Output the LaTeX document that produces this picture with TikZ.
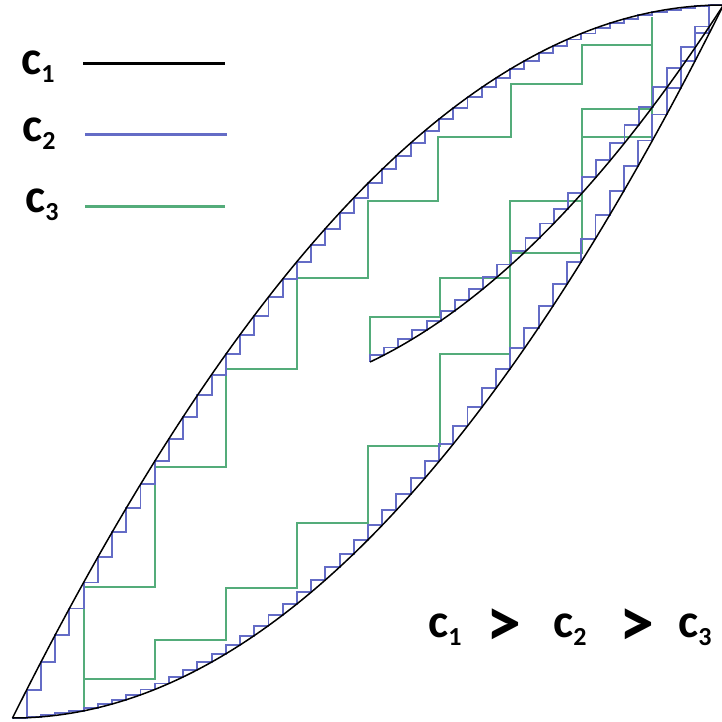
\documentclass[tikz,border=0pt]{standalone}
\usepackage{fontspec}
\setmainfont{Carlito}
\definecolor{cblue}{RGB}{100,108,198}
\definecolor{cgreen}{RGB}{84,172,122}
\newcommand{\mycsub}[1]{{\fontsize{48}{48}\selectfont c}\raisebox{-8pt}{\fontsize{26}{26}\selectfont #1}}
\tikzset{
  curveline/.style={black,line width=1.5pt},
  bluestair/.style={cblue,line width=1.9pt,line join=miter},
  greenstair/.style={cgreen,line width=1.8pt,line join=miter},
  legline/.style={line width=3pt},
  lab/.style={inner sep=0pt,anchor=base west,font=\bfseries},
  gt/.style={inner sep=0pt,anchor=center,font=\bfseries\fontsize{70}{70}\selectfont}
}
\begin{document}
\begin{tikzpicture}[x=1pt,y=-1pt]
\useasboundingbox (0,0) rectangle (722,722);
\clip (0,0) rectangle (722,722);
\fill[white] (0,0) rectangle (722,722);

% green coarse staircases (c3)
\draw[greenstair] (84,711) -- (84,587) -- (155,587) -- (155,467) -- (226,467) -- (226,369)
  -- (297,369) -- (297,278) -- (368,278) -- (368,201) -- (438,201) -- (438,137)
  -- (511,137) -- (511,84) -- (582,84) -- (582,45) -- (652,45) -- (652,17);
\draw[greenstair] (84,679) -- (155,679) -- (155,640) -- (226,640) -- (226,588) -- (297,588)
  -- (297,523) -- (368,523) -- (368,446) -- (440,446) -- (440,354) -- (510,354)
  -- (510,253) -- (582,253) -- (582,137) -- (652,137) -- (652,45);
\draw[greenstair] (370,355) -- (370,317) -- (440,317) -- (440,278) -- (510,278) -- (510,201)
  -- (582,201) -- (582,109) -- (652,109);

% blue fine staircases (c2)
\draw[bluestair] (12.5,718) \foreach \k in {1,...,50}{
  -- ({12.5+14.22*\k},{718-713*((\k-1)/50)*(2-(\k-1)/50)})
  -- ({12.5+14.22*\k},{718-713*(\k/50)*(2-\k/50)}) };
\draw[bluestair] (12.5,718) \foreach \k in {1,...,50}{
  -- ({12.5+14.22*(\k-1)},{718-713*(\k/50)*(\k/50)})
  -- ({12.5+14.22*\k},{718-713*(\k/50)*(\k/50)}) };
\draw[bluestair] (370,362) \foreach \k in {1,...,25}{
  -- ({370+14.14*(\k-1)},{718-713*(0.499+0.4767*(0.01988*\k)+1.069*(0.01988*\k)*(0.01988*\k))})
  -- ({370+14.14*\k},{718-713*(0.499+0.4767*(0.01988*\k)+1.069*(0.01988*\k)*(0.01988*\k))}) };

% black curves (c1)
\draw[curveline] (12.5,718) .. controls (249.5,242.67) and (486.5,5) .. (723.5,5);
\draw[curveline] (12.5,718) .. controls (249.5,718) and (486.5,480.33) .. (723.5,5);
\draw[curveline] (370,362) .. controls (487.9,305.8) and (605.7,186.8) .. (723.5,5);

% legend
\node[lab] (l1) at (21,75) {\mycsub{1}};
\node[lab] (l2) at (22,142) {\mycsub{2}};
\node[lab] (l3) at (25,212) {\mycsub{3}};
\coordinate (s1a) at (83,64);  \coordinate (s1b) at (225,64);
\coordinate (s2a) at (85,135); \coordinate (s2b) at (227,135);
\coordinate (s3a) at (85,206); \coordinate (s3b) at (225,206);
\draw[legline,black] (s1a) -- (s1b);
\draw[legline,cblue] (s2a) -- (s2b);
\draw[legline,cgreen] (s3a) -- (s3b);

% relation
\node[lab] (r1) at (428,637) {\mycsub{1}};
\node[gt] (g1) at (504,628) {>};
\node[lab] (r2) at (553,637) {\mycsub{2}};
\node[gt] (g2) at (637,628) {>};
\node[lab] (r3) at (678,637) {\mycsub{3}};
\end{tikzpicture}
\end{document}
